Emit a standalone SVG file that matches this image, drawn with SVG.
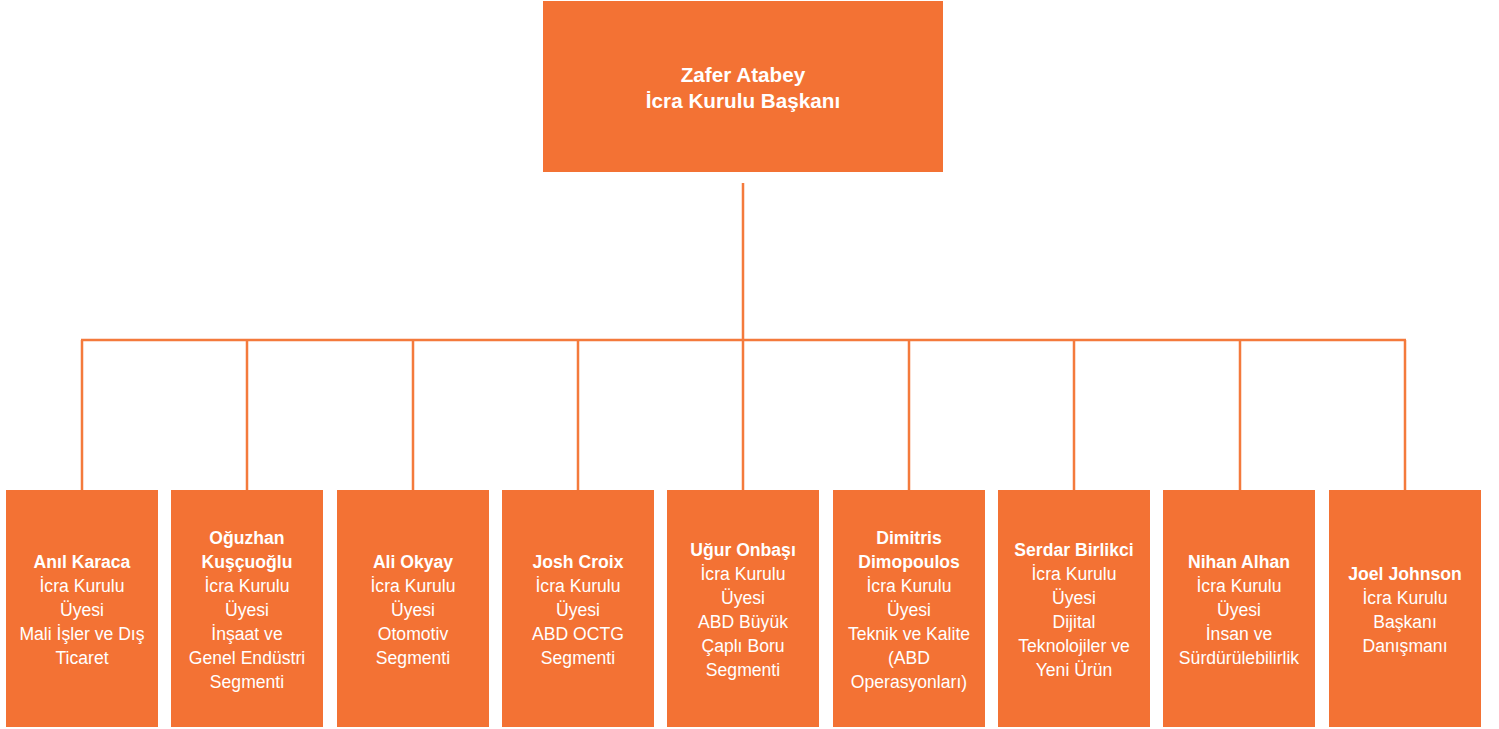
<svg xmlns="http://www.w3.org/2000/svg" width="1499" height="729" viewBox="0 0 1499 729">
<style>
.box{fill:#F37234}
.ln{stroke:#F47A3C;stroke-width:2.5;fill:none}
text{font-family:"Liberation Sans",Arial,sans-serif;fill:#ffffff;text-anchor:middle}
.t{font-size:17.6px}
.n{font-weight:bold}
.top{font-size:20.7px;font-weight:bold}
</style>
<rect width="1499" height="729" fill="#ffffff"/>
<g id="connectors">
<path class="ln" d="M743 183V340M81 340H1406M82 340V490M247 340V490M413 340V490M578 340V490M743 340V490M909 340V490M1074 340V490M1240 340V490M1405 340V490"/>
</g>
<g id="n0"><rect class="box" x="543" y="1" width="400" height="171"/>
<text class="top" x="743" y="82">Zafer Atabey</text><text class="top" x="743" y="108">İcra Kurulu Başkanı</text></g>
<g id="n1" class="t"><rect class="box" x="6" y="490" width="152" height="237"/>
<text x="82" y="568" class="n">Anıl Karaca</text><text x="82" y="592">İcra Kurulu</text><text x="82" y="616">Üyesi</text><text x="82" y="640">Mali İşler ve Dış</text><text x="82" y="664">Ticaret</text></g>
<g id="n2" class="t"><rect class="box" x="171" y="490" width="152" height="237"/>
<text x="247" y="544" class="n">Oğuzhan</text><text x="247" y="568" class="n">Kuşçuoğlu</text><text x="247" y="592">İcra Kurulu</text><text x="247" y="616">Üyesi</text><text x="247" y="640">İnşaat ve</text><text x="247" y="664">Genel Endüstri</text><text x="247" y="688">Segmenti</text></g>
<g id="n3" class="t"><rect class="box" x="337" y="490" width="152" height="237"/>
<text x="413" y="568" class="n">Ali Okyay</text><text x="413" y="592">İcra Kurulu</text><text x="413" y="616">Üyesi</text><text x="413" y="640">Otomotiv</text><text x="413" y="664">Segmenti</text></g>
<g id="n4" class="t"><rect class="box" x="502" y="490" width="152" height="237"/>
<text x="578" y="568" class="n">Josh Croix</text><text x="578" y="592">İcra Kurulu</text><text x="578" y="616">Üyesi</text><text x="578" y="640">ABD OCTG</text><text x="578" y="664">Segmenti</text></g>
<g id="n5" class="t"><rect class="box" x="667" y="490" width="152" height="237"/>
<text x="743" y="556" class="n">Uğur Onbaşı</text><text x="743" y="580">İcra Kurulu</text><text x="743" y="604">Üyesi</text><text x="743" y="628">ABD Büyük</text><text x="743" y="652">Çaplı Boru</text><text x="743" y="676">Segmenti</text></g>
<g id="n6" class="t"><rect class="box" x="833" y="490" width="152" height="237"/>
<text x="909" y="544" class="n">Dimitris</text><text x="909" y="568" class="n">Dimopoulos</text><text x="909" y="592">İcra Kurulu</text><text x="909" y="616">Üyesi</text><text x="909" y="640">Teknik ve Kalite</text><text x="909" y="664">(ABD</text><text x="909" y="688">Operasyonları)</text></g>
<g id="n7" class="t"><rect class="box" x="998" y="490" width="152" height="237"/>
<text x="1074" y="556" class="n">Serdar Birlikci</text><text x="1074" y="580">İcra Kurulu</text><text x="1074" y="604">Üyesi</text><text x="1074" y="628">Dijital</text><text x="1074" y="652">Teknolojiler ve</text><text x="1074" y="676">Yeni Ürün</text></g>
<g id="n8" class="t"><rect class="box" x="1163" y="490" width="152" height="237"/>
<text x="1239" y="568" class="n">Nihan Alhan</text><text x="1239" y="592">İcra Kurulu</text><text x="1239" y="616">Üyesi</text><text x="1239" y="640">İnsan ve</text><text x="1239" y="664">Sürdürülebilirlik</text></g>
<g id="n9" class="t"><rect class="box" x="1329" y="490" width="152" height="237"/>
<text x="1405" y="580" class="n">Joel Johnson</text><text x="1405" y="604">İcra Kurulu</text><text x="1405" y="628">Başkanı</text><text x="1405" y="652">Danışmanı</text></g>
</svg>
